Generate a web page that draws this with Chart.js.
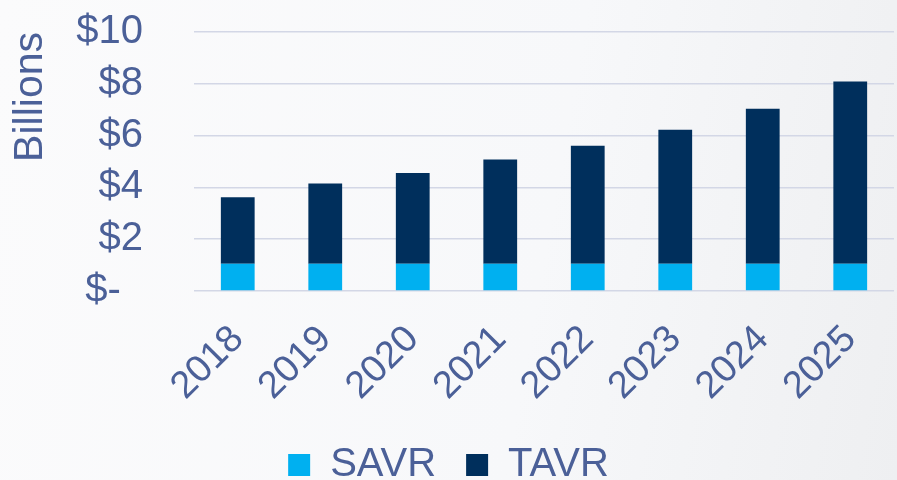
<!DOCTYPE html>
<html>
<head>
<meta charset="utf-8">
<script src="https://cdn.jsdelivr.net/npm/chart.js@4"></script>
<style>
  html, body { margin: 0; padding: 0; }
  body {
    width: 897px; height: 480px; overflow: hidden;
    background: linear-gradient(100deg, #fbfbfc 0%, #f7f8fa 60%, #eeeff1 100%);
  }
  #wrap { width: 897px; height: 480px; }
</style>
</head>
<body>
<div id="wrap"><canvas id="chart"></canvas></div>
<script>
// Datos
const years = ['2018', '2019', '2020', '2021', '2022', '2023', '2024', '2025'];
const savr = [1.05, 1.05, 1.05, 1.05, 1.05, 1.05, 1.05, 1.05];
const tavr = [2.57, 3.10, 3.51, 4.03, 4.56, 5.18, 5.99, 7.04];
const yTicks = [0, 2, 4, 6, 8, 10];

const textColor = '#4b6098';
const font = 'Liberation Sans, Arial, sans-serif';

const config = {
    type: 'bar',
    data: {
        labels: years,
        datasets: [
            {
                label: 'SAVR',
                data: savr,
                backgroundColor: '#00b0f0',
                categoryPercentage: 1,
                barPercentage: 0.386
            },
            {
                label: 'TAVR',
                data: tavr,
                backgroundColor: '#002f5c',
                categoryPercentage: 1,
                barPercentage: 0.386
            }
        ]
    },
    options: {
        responsive: true,
        maintainAspectRatio: false,
        animation: false,
        layout: { padding: { top: 0, right: 0, left: 0, bottom: -15 } },
        plugins: {
            tooltip: { enabled: false },
            legend: {
                position: 'bottom',
                labels: {
                    color: textColor,
                    font: { family: font, size: 40 },
                    boxWidth: 22,
                    boxHeight: 22,
                    padding: 30
                }
            }
        },
        scales: {
            x: {
                stacked: true,
                grid: { display: false },
                border: { display: false },
                afterFit: (axis) => {
                    axis.height = 124;
                    axis.paddingRight = 3;
                },
                ticks: {
                    color: textColor,
                    font: { family: font, size: 38 },
                    minRotation: 45,
                    maxRotation: 45,
                    autoSkip: false,
                    padding: 18
                }
            },
            y: {
                stacked: true,
                min: 0,
                max: 10,
                afterBuildTicks: (axis) => {
                    axis.ticks = yTicks.map(v => ({ value: v }));
                },
                afterFit: (axis) => {
                    // ancho fijo y margen superior del area del grafico
                    axis.width = 194;
                    axis.paddingTop = 32;
                    axis.paddingBottom = 0;
                },
                grid: { color: '#d3d7e6', lineWidth: 1.5, drawTicks: false },
                border: { display: false },
                title: {
                    display: true,
                    text: 'Billions',
                    color: textColor,
                    align: 'end',
                    font: { family: font, size: 41 },
                    padding: { top: 6, bottom: 0 }
                },
                ticks: {
                    color: textColor,
                    font: { family: font, size: 40 },
                    padding: 51,
                    autoSkip: false,
                    callback: (v) => v === 0 ? '$-  ' : '$' + v
                }
            }
        }
    }
};

new Chart(document.getElementById('chart'), config);
</script>
</body>
</html>
